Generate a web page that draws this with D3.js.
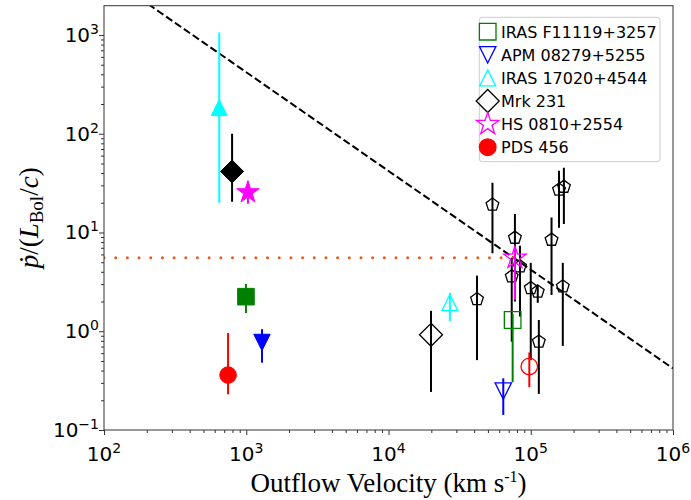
<!DOCTYPE html>
<html>
<head>
<meta charset="utf-8">
<script src="https://cdn.jsdelivr.net/npm/d3@7"></script>
<style>
  body { margin: 0; background: #fff; }
</style>
</head>
<body>
<script>
// sources (legend order) and their styles
var sources = ["IRAS F11119+3257", "APM 08279+5255", "IRAS 17020+4544", "Mrk 231", "HS 0810+2554", "PDS 456"];
var colors = ["green", "blue", "cyan", "black", "magenta", "red"];
var symbols = ["square", "triDown", "triUp", "diamond", "star", "circle"];

// slow (filled) component: velocity, momentum ratio, error range
var slowV  = [995, 1290, 646, 795, 1028, 745];
var slowP  = [2.24, 0.77, 184, 41.5, 25.5, 0.36];
var slowLo = [1.53, 0.48, 20, 20.5, 19.5, 0.23];
var slowHi = [3.02, 1.05, 1057, 100, 30, 0.96];

// fast (open) component
var fastV  = [74600, 64100, 27000, 19900, 77400, 97700];
var fastP  = [1.30, 0.248, 1.95, 0.92, 5.54, 0.44];
var fastLo = [0.305, 0.142, 1.27, 0.243, 2.08, 0.271];
var fastHi = [1.5, 0.334, 2.45, 1.61, 7.0, 0.61];

// other UFO sample (open pentagons)
var pentV  = [53800, 77400, 158000, 171000, 140000, 84000, 73500, 100000, 112000, 114000, 168000, 41900];
var pentP  = [19.1, 8.83, 27.1, 29.0, 8.43, 4.52, 3.58, 2.73, 2.52, 0.785, 2.84, 2.11];
var pentLo = [6.15, 2.0, 11.2, 12.2, 2.33, 1.41, 0.785, 0.51, 1.94, 0.232, 0.71, 0.51];
var pentHi = [31.9, 15.4, 42.2, 45.3, 14.2, 7.33, 5.5, 4.93, 2.95, 1.3, 4.93, 3.66];

// reference lines
var lineConst = 4.2e5;        // dashed: p/(L/c) = const / v
var dottedLevel = 5.54;       // dotted horizontal level
var dottedEnd = 77400;

var xMajors = [1e2, 1e3, 1e4, 1e5, 1e6];
var yMajors = [1e-1, 1e0, 1e1, 1e2, 1e3];

var width = 691, height = 500;
var padL = 104, padR = 673, padT = 5.7, padB = 430;

var svg = d3.select("body").append("svg")
    .attr("width", width)
    .attr("height", height)
    .style("font-family", "'DejaVu Sans', sans-serif");

var x = d3.scaleLog().domain([1e2, 1e6]).range([padL, padR]);
var y = d3.scaleLog().domain([0.1, 1980]).range([padB, padT]);

svg.append("defs").append("clipPath").attr("id", "clip")
    .append("rect").attr("x", padL).attr("y", padT)
    .attr("width", padR - padL).attr("height", padB - padT);

//marker shapes as path strings centred on 0,0
function markerPath(type, s){
    var p = d3.path();
    if (type == "square"){
        p.rect(-s, -s, 2*s, 2*s);
    } else if (type == "triUp"){
        p.moveTo(0, -s); p.lineTo(s, s); p.lineTo(-s, s); p.closePath();
    } else if (type == "triDown"){
        p.moveTo(0, s); p.lineTo(s, -s); p.lineTo(-s, -s); p.closePath();
    } else if (type == "diamond"){
        p.moveTo(0, -s); p.lineTo(s, 0); p.lineTo(0, s); p.lineTo(-s, 0); p.closePath();
    } else if (type == "star"){
        for (var i=0; i<10; i++){
            var r = i % 2 == 0 ? s : s * 0.382;
            var a = -Math.PI/2 + i * Math.PI/5;
            if (i == 0) p.moveTo(r*Math.cos(a), r*Math.sin(a));
            else p.lineTo(r*Math.cos(a), r*Math.sin(a));
        }
        p.closePath();
    } else if (type == "pentagon"){
        for (var i=0; i<5; i++){
            var a = -Math.PI/2 + i * 2*Math.PI/5;
            if (i == 0) p.moveTo(s*Math.cos(a), s*Math.sin(a));
            else p.lineTo(s*Math.cos(a), s*Math.sin(a));
        }
        p.closePath();
    } else {
        p.arc(0, 0, s, 0, 2*Math.PI);
    }
    return p.toString();
}

//half sizes per symbol
var sizes = {square: 8.3, triUp: 8, triDown: 8.2, diamond: 11.5, star: 11.8, circle: 8.3, pentagon: 6.7};

var plot = svg.append("g").attr("clip-path", "url(#clip)");

//dashed line
var dashV = d3.range(0, 41).map(function(i){ return Math.pow(10, 2 + i*0.1); });
plot.append("path")
    .datum(dashV)
    .attr("fill", "none")
    .attr("stroke", "black")
    .attr("stroke-width", 2)
    .attr("stroke-dasharray", "7.5,3.3")
    .attr("d", d3.line()
        .x(function(d){ return x(d); })
        .y(function(d){ return y(lineConst / d); }));

//dotted level line
plot.append("line")
    .attr("x1", x(1e2)).attr("x2", x(dottedEnd))
    .attr("y1", y(dottedLevel)).attr("y2", y(dottedLevel))
    .attr("stroke", "#ec5a1a")
    .attr("stroke-width", 3)
    .attr("stroke-linecap", "round")
    .attr("stroke-dasharray", "0.01,11.67");

//pentagon sample
pentV.forEach(function(v, i){
    plot.append("line")
        .attr("x1", x(v)).attr("x2", x(v))
        .attr("y1", y(pentLo[i])).attr("y2", y(pentHi[i]))
        .attr("stroke", "black").attr("stroke-width", 2);
    plot.append("path")
        .attr("d", markerPath("pentagon", sizes.pentagon))
        .attr("transform", "translate(" + x(v) + "," + y(pentP[i]) + ")")
        .attr("fill", "none").attr("stroke", "black").attr("stroke-width", 1.3);
});

//slow (filled) and fast (open) components
sources.forEach(function(name, i){
    plot.append("line")
        .attr("x1", x(slowV[i])).attr("x2", x(slowV[i]))
        .attr("y1", y(slowLo[i])).attr("y2", y(slowHi[i]))
        .attr("stroke", colors[i]).attr("stroke-width", 2);
    plot.append("path")
        .attr("d", markerPath(symbols[i], sizes[symbols[i]]))
        .attr("transform", "translate(" + x(slowV[i]) + "," + y(slowP[i]) + ")")
        .attr("fill", colors[i]).attr("stroke", colors[i]).attr("stroke-width", 1);

    plot.append("line")
        .attr("x1", x(fastV[i])).attr("x2", x(fastV[i]))
        .attr("y1", y(fastLo[i])).attr("y2", y(fastHi[i]))
        .attr("stroke", colors[i]).attr("stroke-width", 2);
    plot.append("path")
        .attr("d", markerPath(symbols[i], sizes[symbols[i]]))
        .attr("transform", "translate(" + x(fastV[i]) + "," + y(fastP[i]) + ")")
        .attr("fill", "none").attr("stroke", colors[i]).attr("stroke-width", 1.3);
});

//axes: minor and major ticks
function minors(lo, hi){
    var out = [];
    for (var e=lo; e<hi; e++){
        for (var k=2; k<10; k++) out.push(k * Math.pow(10, e));
    }
    return out;
}
var xMinor = minors(2, 6);
var yMinor = minors(-1, 4).filter(function(d){ return d <= 1980; });

svg.append("g").attr("transform", "translate(0," + padB + ")")
    .call(d3.axisBottom(x).tickValues(xMinor).tickSize(3).tickFormat(""));
svg.append("g").attr("transform", "translate(0," + padB + ")")
    .call(d3.axisBottom(x).tickValues(xMajors).tickSize(5).tickFormat(""));
svg.append("g").attr("transform", "translate(" + padL + ",0)")
    .call(d3.axisLeft(y).tickValues(yMinor).tickSize(3).tickFormat(""));
svg.append("g").attr("transform", "translate(" + padL + ",0)")
    .call(d3.axisLeft(y).tickValues(yMajors).tickSize(5).tickFormat(""));
svg.selectAll(".domain").remove();
svg.selectAll(".tick line").attr("stroke", "#333");

//frame
svg.append("rect")
    .attr("x", padL).attr("y", padT)
    .attr("width", padR - padL).attr("height", padB - padT)
    .attr("fill", "none").attr("stroke", "#333").attr("stroke-width", 1);

//power of ten tick labels
function expOf(d){ return Math.round(Math.log10(d)); }

xMajors.forEach(function(d){
    var t = svg.append("text")
        .attr("x", x(d)).attr("y", 461)
        .attr("text-anchor", "middle")
        .attr("font-size", 20).attr("fill", "black");
    t.append("tspan").text("10");
    t.append("tspan").attr("dy", -8).attr("font-size", 14).text(expOf(d));
});

yMajors.forEach(function(d){
    var e = expOf(d);
    var t = svg.append("text")
        .attr("x", padL - 5).attr("y", y(d) + 7)
        .attr("text-anchor", "end")
        .attr("font-size", 20).attr("fill", "black");
    t.append("tspan").text("10");
    t.append("tspan").attr("dy", -8).attr("font-size", 14).text(e < 0 ? "\u2212" + (-e) : e);
});

//axis titles
var xt = svg.append("text")
    .attr("x", (padL + padR) / 2).attr("y", 492)
    .attr("text-anchor", "middle")
    .attr("font-family", "'Liberation Serif', serif")
    .attr("font-size", 27).attr("fill", "black");
xt.append("tspan").text("Outflow Velocity (km s");
xt.append("tspan").attr("dy", -10).attr("font-size", 16).text("-1");
xt.append("tspan").attr("dy", 10).text(")");

var yt = svg.append("text")
    .attr("transform", "translate(38," + ((padT + padB) / 2) + ") rotate(-90)")
    .attr("text-anchor", "middle")
    .attr("font-family", "'Liberation Serif', serif")
    .attr("font-size", 27).attr("fill", "black");
yt.append("tspan").attr("font-style", "italic").text("\u1E57");
yt.append("tspan").text("/(");
yt.append("tspan").attr("font-style", "italic").text("L");
yt.append("tspan").attr("dy", 5).attr("font-size", 19).text("Bol");
yt.append("tspan").attr("dy", -5).text("/");
yt.append("tspan").attr("font-style", "italic").text("c");
yt.append("tspan").text(")");

//legend
var legend = svg.append("g");
legend.append("rect")
    .attr("x", 479.3).attr("y", 17.3)
    .attr("width", 180.7).attr("height", 144.4)
    .attr("rx", 3).attr("ry", 3)
    .attr("fill", "white").attr("fill-opacity", 0.8)
    .attr("stroke", "#cccccc").attr("stroke-width", 1);

sources.forEach(function(name, i){
    var cy = 31.7 + i * 23.1;
    legend.append("path")
        .attr("d", markerPath(symbols[i], sizes[symbols[i]]))
        .attr("transform", "translate(487.7," + cy + ")")
        .attr("fill", name == "PDS 456" ? "red" : "none")
        .attr("stroke", colors[i]).attr("stroke-width", 1.3);
    legend.append("text")
        .attr("x", 501).attr("y", cy + 6)
        .attr("font-size", 16).attr("fill", "black")
        .text(name);
});
</script>
</body>
</html>
